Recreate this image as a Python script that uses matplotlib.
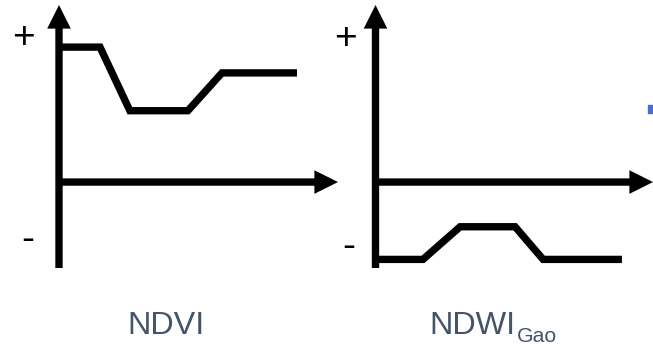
import matplotlib
matplotlib.use('Agg')
from matplotlib import pyplot as plt
from matplotlib.patches import FancyArrowPatch, Rectangle

# schematic index curves (x: time, y: index value, 0 = horizontal axis)
ndvi_x = [0.0, 1.47, 2.54, 4.62, 5.84, 8.53]
ndvi_y = [1.57, 1.57, 0.83, 0.83, 1.27, 1.27]

ndwi_x = [0.0, 1.71, 3.05, 5.03, 6.04, 8.88]
ndwi_y = [-0.90, -0.90, -0.52, -0.52, -0.90, -0.90]

panel_titles = ['NDVI', 'NDWI']
subscript = 'Gao'

W, H = 653, 347
INK = '#000000'
TEXT_COLOR = '#44546A'
LW = 5.3

plt.rcParams['font.family'] = ['Liberation Sans', 'DejaVu Sans']

fig = plt.figure(figsize=(W / 100, H / 100), dpi=100)


def px_axes(left, right, top, bottom):
    return fig.add_axes([left / W, 1 - bottom / H, (right - left) / W, (bottom - top) / H])


def draw_frame(ax):
    ax.set_xlim(0, 10)
    ax.set_ylim(-1, 2.06)
    ax.axis('off')
    style = 'simple,head_length=1.7,head_width=1.7,tail_width=0.53'
    for start, end in [((0, -1), (0, 2.06)), ((0, 0), (10, 0))]:
        arrow = FancyArrowPatch(start, end, arrowstyle=style, mutation_scale=10,
                                color=INK, lw=0, shrinkA=0, shrinkB=0, clip_on=False)
        ax.add_patch(arrow)


ax1 = px_axes(59, 338, 5, 268)
draw_frame(ax1)
ax1.plot(ndvi_x, ndvi_y, color=INK, lw=LW, solid_joinstyle='miter',
         solid_capstyle='butt', clip_on=False)

ax2 = px_axes(375.5, 653, 5, 268)
draw_frame(ax2)
ax2.plot(ndwi_x, ndwi_y, color=INK, lw=LW, solid_joinstyle='miter',
         solid_capstyle='butt', clip_on=False)

# sign labels
for x, y, s in [(23, 47.6, '+'), (27.5, 250, '-'), (345, 48.6, '+'), (348.5, 257.5, '-')]:
    fig.text(x / W, 1 - y / H, s, fontsize=28, ha='center', va='baseline', color=INK)

fig.text(165.5 / W, 1 - 334.5 / H, panel_titles[0], fontsize=23.3, ha='center',
         va='baseline', color=TEXT_COLOR)
fig.text(429 / W, 1 - 334.5 / H, panel_titles[1], fontsize=23.3, ha='left',
         va='baseline', color=TEXT_COLOR)
fig.text(516.5 / W, 1 - 342 / H, subscript, fontsize=15.3, ha='left',
         va='baseline', color=TEXT_COLOR)

# clipped marker at the right edge
fig.patches.append(Rectangle((648 / W, 1 - 113 / H), 5 / W, 8 / H, transform=fig.transFigure,
                             color='#4472C4', figure=fig))

fig.savefig('out.png', dpi=100)
